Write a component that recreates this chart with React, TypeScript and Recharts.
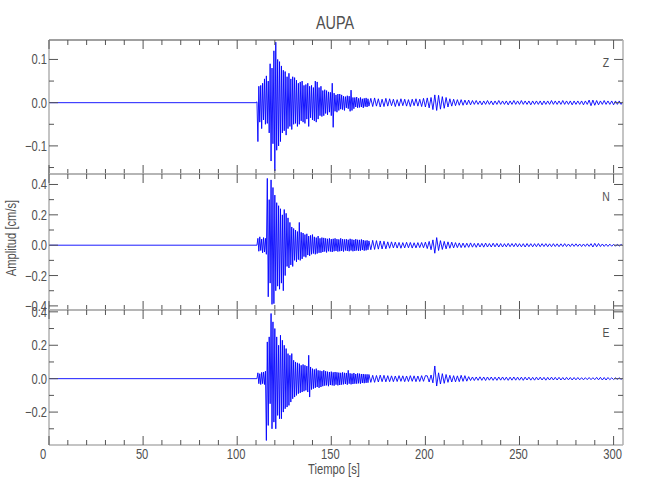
import { LineChart, Line, XAxis, YAxis } from 'recharts'

const W = 650
const H = 500
const PLOT_LEFT = 49
const PLOT_RIGHT = 623
const FONT = "'Liberation Sans', Arial, sans-serif"
const NARROW = 0.8
const TEXT = '#505050'
const TICK = '#555'
const FRAME = '#b0b0b0'
const TRACE = '#0000ff'

// Tiempo [s]
const xMajor = [0, 50, 100, 150, 200, 250, 300]
const xMinor = [10, 20, 30, 40, 60, 70, 80, 90, 110, 120, 130, 140, 160, 170, 180, 190, 210, 220, 230, 240, 260, 270, 280, 290]
const xDomain = [0, 305]

// Amplitud [cm/s] ticks por componente
const zMajor = [-0.1, 0, 0.1]
const zMinor = [-0.15, -0.05, 0.05]
const nMajor = [-0.4, -0.2, 0, 0.2, 0.4]
const nMinor = [-0.3, -0.1, 0.1, 0.3]
const eMajor = [-0.2, 0, 0.2, 0.4]
const eMinor = [-0.3, -0.1, 0.1, 0.3]

// tramo previo al sismo (sin señal)
const quietT = [0, 110]

// fase fuerte: desde 110.5 s cada 0.5 s, valores en 0.001 cm/s
const burstStart = 110.5
const burstStep = 0.5
const zBurst = [
  2, -90, 38, -45, 40, -60, 45, -40, 55, -50,
  62, -48, 50, -70, 90, -135, 80, -95, 120, -158,
  140, -110, 100, -100, 95, -90, 85, -70, 75, -65,
  72, -75, 60, -60, 68, -55, 55, -62, 60, -50,
  58, -48, 52, -55, 45, -50, 48, -42, 50, -45,
  40, -48, 42, -38, 45, -55, 38, -35, 40, -40,
  35, -42, 50, -45, 48, -38, 35, -30, 38, -32,
  28, -30, 30, -25, 28, -28, 25, -22, 24, -30,
  45, -57, 22, -20, 18, -22, 20, -18, 20, -15,
  18, -16, 15, -18, 14, -12, 16, -14, 15, -20,
  29, -18, 12, -14, 12, -10, 13, -12, 10, -11,
  12, -10, 9, -12, 10, -9, 11, -10, 9, -8,
]
const nBurst = [
  0, 45, -40, 55, -35, 40, -50, 50, -45, 45,
  -60, 440, -340, 300, -250, 430, -390, 380, -385, 330,
  -300, 280, -270, 260, -290, 240, -250, 200, -300, 235,
  -200, 210, -140, 180, -150, 150, -130, 120, -140, 110,
  -100, 100, -110, 90, -95, 150, -100, 85, -90, 80,
  -75, 70, -80, 75, -65, 60, -70, 65, -60, 70,
  -55, 55, -60, 50, -55, 60, -50, 45, -50, 50,
  -45, 48, -42, 45, -48, 42, -40, 45, -42, 40,
  -45, 42, -40, 45, -38, 40, -42, 38, -40, 45,
  -38, 40, -42, 38, -35, 40, -38, 36, -40, 42,
  -35, 38, -40, 35, -38, 40, -35, 36, -38, 35,
  -36, 38, -32, 34, -36, 30, -34, 32, -30, 28,
]
const eBurst = [
  0, 35, -30, 30, -35, 38, -30, 40, -35, 45,
  -370, 220, -280, 250, -150, 390, -300, 340, -260, 300,
  -300, 250, -220, 200, -240, 260, -240, 230, -200, 200,
  -180, 180, -170, 150, -160, 140, -140, 150, -120, 110,
  -110, 100, -100, 95, -90, 90, -85, 80, -80, 85,
  -75, 80, -70, 75, -80, 140, -110, 70, -65, 60,
  -60, 55, -55, 60, -50, 50, -55, 48, -50, 45,
  -45, 50, -42, 45, -40, 42, -45, 40, -38, 42,
  -40, 38, -42, 40, -36, 38, -40, 36, -38, 35,
  -36, 38, -34, 35, -32, 34, -36, 50, -30, 32,
  -34, 30, -32, 34, -30, 28, -30, 32, -28, 30,
  -30, 28, -26, 28, -27, 26, -25, 26, -24, 25,
]

// coda: desde 171 s cada 1 s, valores en 0.001 cm/s
const codaStart = 171
const codaStep = 1
const zCoda = [
  10, -9, 11, -8, 9, -10, 8, -9, 10, -8,
  9, -7, 8, -9, 7, -8, 9, -7, 8, -8,
  7, -9, 8, -7, 9, -8, 8, -9, 10, -10,
  11, -12, 12, -16, 18, -18, 17, -15, 14, -13,
  12, -10, 9, -8, 8, -7, 7, -6, 7, -6,
  6, -5, 6, -5, 5, -4, 5, -4, 4, -5,
  4, -4, 5, -4, 4, -5, 4, -4, 5, -4,
  4, -4, 4, -5, 4, -4, 5, -4, 4, -4,
  5, -4, 4, -4, 4, -5, 4, -4, 4, -4,
  4, -5, 4, -4, 4, -4, 5, -4, 4, -4,
  4, -4, 5, -4, 4, -4, 4, -5, 4, -4,
  4, -4, 4, -5, 4, -4, 6, -7, 6, -6,
  5, -5, 4, -4, 5, -4, 4, -4, 4, -5,
  4, -4, 4, -4, 3,
]
const nCoda = [
  -30, 32, -28, 30, -26, 28, -25, 26, -24, 22,
  -20, 22, -18, 20, -19, 18, -20, 17, -18, 19,
  -17, 18, -19, 16, -18, 17, -16, 18, -17, 20,
  -22, 25, -30, 35, -53, 50, -35, 30, -28, 25,
  -24, 22, -20, 20, -18, 17, -16, 15, -16, 14,
  -15, 13, -14, 15, -13, 12, -14, 13, -12, 12,
  -13, 14, -12, 11, -12, 13, -11, 12, -12, 11,
  -12, 10, -11, 12, -10, 11, -10, 12, -11, 10,
  -11, 10, -12, 11, -10, 10, -11, 10, -10, 11,
  -10, 10, -9, 10, -10, 9, -10, 10, -9, 9,
  -10, 9, -9, 10, -9, 8, -9, 9, -8, 9,
  -8, 8, -9, 8, -8, 9, -8, 10, -12, 12,
  -10, 11, -9, 8, -8, 7, -8, 7, -7, 6,
  -7, 6, -6, 5, -5,
]
const eCoda = [
  -22, 20, -22, 19, -20, 21, -18, 20, -19, 18,
  -18, 17, -18, 16, -17, 18, -16, 17, -18, 16,
  -17, 18, -16, 17, -18, 16, -17, 18, -16, 18,
  17, -20, 22, -25, 76, -44, 35, -32, 30, -28,
  25, -22, 20, -20, 18, -19, 17, -18, 20, -16,
  18, -15, 12, -11, 10, -11, 10, -10, 11, -10,
  10, -11, 10, -9, 10, -10, 9, -10, 10, -9,
  10, -9, 9, -10, 9, -9, 10, -9, 9, -9,
  9, -10, 9, -8, 9, -9, 8, -9, 9, -8,
  9, -8, 8, -9, 8, -8, 9, -8, 8, -8,
  8, -8, 7, -8, 8, -7, 7, -8, 7, -7,
  7, -7, 6, -7, 6, -6, 7, -6, 6, -6,
  8, -7, 8, -8, 7, -8, 7, -6, 5, -5,
  5, -4, 5, -4, 4,
]

type Row = { t: number; z: number; n: number; e: number }
const rows: Row[] = []
quietT.forEach((t) => rows.push({ t, z: 0, n: 0, e: 0 }))
zBurst.forEach((_, i) =>
  rows.push({
    t: burstStart + i * burstStep,
    z: zBurst[i] / 1000,
    n: (nBurst[i] ?? 0) / 1000,
    e: (eBurst[i] ?? 0) / 1000,
  })
)
zCoda.forEach((_, i) =>
  rows.push({
    t: codaStart + i * codaStep,
    z: zCoda[i] / 1000,
    n: (nCoda[i] ?? 0) / 1000,
    e: (eCoda[i] ?? 0) / 1000,
  })
)

const isIn = (list: number[], v: number) => list.some((m) => Math.abs(m - v) < 1e-9)
const fmtY = (v: number) => v.toFixed(1).replace('-', '\u2212')

// texto estrecho (tipo Hershey de IDL): Liberation Sans comprimido en x
function NarrowText({ x, y, anchor, size, children, rotate }: any) {
  const tf = rotate
    ? `translate(${x} ${y}) rotate(-90) scale(${NARROW} 1)`
    : `translate(${x} ${y}) scale(${NARROW} 1)`
  return (
    <text transform={tf} textAnchor={anchor} fontSize={size} fill={TEXT} fontFamily={FONT}>
      {children}
    </text>
  )
}

// ticks hacia dentro, estilo IDL
function makeYTick(side: 'left' | 'right', major: number[]) {
  return (props: any) => {
    const { x, y, payload } = props
    const big = isIn(major, payload.value)
    const len = big ? 9 : 5
    const dir = side === 'left' ? 1 : -1
    return (
      <g>
        <line x1={x} y1={y} x2={x + dir * len} y2={y} stroke={TICK} />
        {side === 'left' && big && (
          <NarrowText x={x - 2} y={y + 5} anchor="end" size={14}>
            {fmtY(payload.value)}
          </NarrowText>
        )}
      </g>
    )
  }
}

function makeXTick(side: 'top' | 'bottom', showLabel: boolean) {
  return (props: any) => {
    const { x, y, payload } = props
    const big = isIn(xMajor, payload.value)
    const len = big ? 9 : 5
    const dir = side === 'top' ? 1 : -1
    return (
      <g>
        <line x1={x} y1={y} x2={x} y2={y + dir * len} stroke={TICK} />
        {side === 'bottom' && showLabel && big && (
          <NarrowText x={payload.value === 0 ? x - 6 : x - 1} y={y + 14} anchor="middle" size={14}>
            {payload.value}
          </NarrowText>
        )}
      </g>
    )
  }
}

const panels = [
  { key: 'z', name: 'Z', top: 40, bottom: 174, domain: [-0.165, 0.145], major: zMajor, minor: zMinor, topFrame: '#808080', showX: false },
  { key: 'n', name: 'N', top: 174, bottom: 310, domain: [-0.427, 0.469], major: nMajor, minor: nMinor, topFrame: FRAME, showX: false },
  { key: 'e', name: 'E', top: 310, bottom: 445, domain: [-0.397, 0.411], major: eMajor, minor: eMinor, topFrame: FRAME, showX: true },
]

const xTicks = [...xMajor, ...xMinor].sort((a, b) => a - b)

// los ejes necesitan tamaño > 0 para dibujarse: 1 px, compensado en el margen
function Panel({ p }: { p: (typeof panels)[number] }) {
  const yTicks = [...p.major, ...p.minor].sort((a, b) => a - b)
  return (
    <div style={{ position: 'absolute', left: 0, top: 0 }}>
      <LineChart
        width={W}
        height={H}
        data={rows}
        margin={{ top: p.top - 1, bottom: H - p.bottom - 1, left: PLOT_LEFT - 1, right: W - PLOT_RIGHT - 1 }}
      >
        <XAxis
          xAxisId="b"
          dataKey="t"
          type="number"
          domain={xDomain}
          allowDataOverflow
          ticks={xTicks}
          interval={0}
          height={1}
          tickSize={0}
          tickMargin={0}
          tickLine={false}
          axisLine={{ stroke: FRAME, strokeWidth: 1.5 }}
          tick={makeXTick('bottom', p.showX)}
        />
        <XAxis
          xAxisId="t"
          orientation="top"
          dataKey="t"
          type="number"
          domain={xDomain}
          allowDataOverflow
          ticks={xTicks}
          interval={0}
          height={1}
          tickSize={0}
          tickMargin={0}
          tickLine={false}
          axisLine={{ stroke: p.topFrame, strokeWidth: 1.5 }}
          tick={makeXTick('top', false)}
        />
        <YAxis
          yAxisId="l"
          type="number"
          domain={p.domain}
          allowDataOverflow
          ticks={yTicks}
          interval={0}
          width={1}
          tickSize={0}
          tickMargin={0}
          tickLine={false}
          axisLine={{ stroke: FRAME, strokeWidth: 1.5 }}
          tick={makeYTick('left', p.major)}
        />
        <YAxis
          yAxisId="r"
          orientation="right"
          type="number"
          domain={p.domain}
          allowDataOverflow
          ticks={yTicks}
          interval={0}
          width={1}
          tickSize={0}
          tickMargin={0}
          tickLine={false}
          axisLine={{ stroke: FRAME, strokeWidth: 1.5 }}
          tick={makeYTick('right', p.major)}
        />
        <Line
          xAxisId="b"
          yAxisId="l"
          type="linear"
          dataKey={p.key}
          stroke={TRACE}
          strokeWidth={0.9}
          dot={false}
          activeDot={false}
          isAnimationActive={false}
        />
      </LineChart>
    </div>
  )
}

export default function App() {
  return (
    <div style={{ position: 'absolute', left: 0, top: 0, width: W, height: H, background: '#fff' }}>
      {panels.map((p) => (
        <Panel key={p.key} p={p} />
      ))}
      <svg width={W} height={H} style={{ position: 'absolute', left: 0, top: 0, pointerEvents: 'none' }}>
        <NarrowText x={335} y={29} anchor="middle" size={18}>
          AUPA
        </NarrowText>
        <NarrowText x={334} y={474} anchor="middle" size={14}>
          Tiempo [s]
        </NarrowText>
        <NarrowText x={16} y={238} anchor="middle" size={14} rotate>
          Amplitud [cm/s]
        </NarrowText>
        {panels.map((p) => (
          <NarrowText key={p.key} x={606} y={p.top + 27} anchor="middle" size={13}>
            {p.name}
          </NarrowText>
        ))}
      </svg>
    </div>
  )
}
